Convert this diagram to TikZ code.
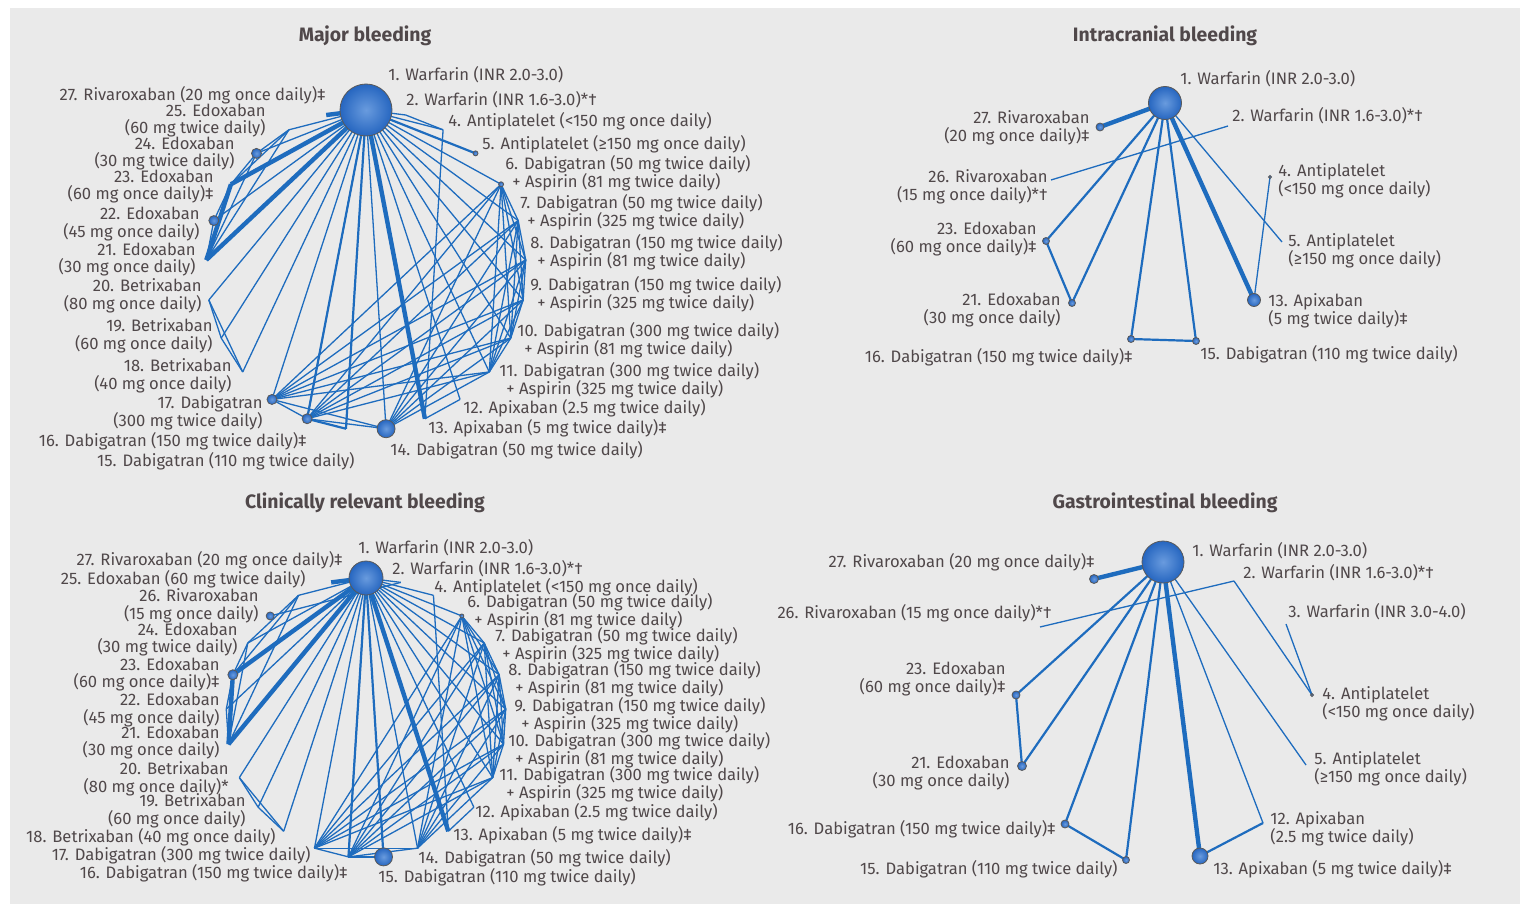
\documentclass[tikz,border=0pt]{standalone}
\usepackage{fontspec}
\setmainfont{Fira Sans}
\usetikzlibrary{calc}
\definecolor{bggray}{RGB}{234,234,234}
\definecolor{lineblue}{RGB}{30,108,190}
\definecolor{ballblue}{RGB}{38,102,192}
\definecolor{balllight}{RGB}{105,155,222}
\definecolor{txtgray}{RGB}{80,72,74}
\newcommand{\aspline}[1]{\hspace*{3.5pt}+ Aspirin (#1 mg twice daily)}

\begin{document}
\begin{tikzpicture}[x=0.5pt,y=-0.5pt,
    lbl/.style={text=txtgray,font=\fontsize{8.3}{8.8}\selectfont,inner sep=0pt},
    ttl/.style={text=txtgray,font=\fontsize{9.7}{11}\selectfont\bfseries},
    edge/.style={draw=lineblue,line width=0.65pt},
    medge/.style={draw=lineblue,line width=1.1pt},
    tedge/.style={draw=lineblue,line width=2.2pt},
    netnode/.style={circle,draw=black!65,line width=0.4pt,inner color=balllight,outer color=ballblue,inner sep=0pt,minimum size=#1}
  ]
  \useasboundingbox (0,0) rectangle (1521,904);
  \fill[bggray] (10,8) rectangle (1520,904);

  % titles
  \node[ttl] (t-major) at (365,36) {Major bleeding};
  \node[ttl] (t-intra) at (1165,36) {Intracranial bleeding};
  \node[ttl] (t-clin) at (365,503) {Clinically relevant bleeding};
  \node[ttl] (t-gi) at (1165,503) {Gastrointestinal bleeding};

  %% Major bleeding
  \foreach \n [count=\i from 0] in {1,2,4,5,6,7,8,9,10,11,12,13,14,15,16,17,18,19,20,21,22,23,24,25,27}
    \coordinate (M\n) at ($(366,270)+({-90+14.4*\i}:160)$);
  \foreach \a [count=\ka] in {1,6,7,8,9,10,11,14,16,17}
    \foreach \b [count=\kb] in {1,6,7,8,9,10,11,14,16,17}
      {\ifnum\kb>\ka \draw[edge] (M\a) -- (M\b); \fi}
  \foreach \a/\b in {1/2,1/4,1/12,1/18,1/19,1/20,1/22,1/24,1/25,2/4,4/13,12/13,
                     18/19,18/20,19/20,21/22,22/23,21/24,21/25,23/24,23/25,24/25}
    \draw[edge] (M\a) -- (M\b);
  \foreach \a/\b in {1/5,1/15,1/16,15/16}
    \draw[medge] (M\a) -- (M\b);
  \foreach \a/\b in {1/13,1/21,1/23,21/23,1/27}
    \draw[tedge] (M\a) -- (M\b);
  \node[netnode=26pt] at (M1) {};
  \node[netnode=2.5pt] at (M5) {};
  \node[netnode=2.5pt] at (M6) {};
  \node[netnode=9pt] at (M14) {};
  \node[netnode=5pt] at (M16) {};
  \node[netnode=5pt] at (M17) {};
  \node[netnode=5pt] at (M22) {};
  \node[netnode=5pt] at (M24) {};

  \begin{scope}[every node/.style={lbl}]
    \node[anchor=west] (ML1) at (388,75) {1. Warfarin (INR 2.0-3.0)};
    \node[anchor=west] (ML2) at (406,100) {2. Warfarin (INR 1.6-3.0)*†};
    \node[anchor=west] (ML4) at (448,121) {4. Antiplatelet (<150 mg once daily)};
    \node[anchor=west] (ML5) at (482,144) {5. Antiplatelet (≥150 mg once daily)};
    \node[anchor=west,align=left] (ML6) at (505,173.5) {6. Dabigatran (50 mg twice daily)\\\aspline{81}};
    \node[anchor=west,align=left] (ML7) at (520,212) {7. Dabigatran (50 mg twice daily)\\\aspline{325}};
    \node[anchor=west,align=left] (ML8) at (530,252) {8. Dabigatran (150 mg twice daily)\\\aspline{81}};
    \node[anchor=west,align=left] (ML9) at (530,294) {9. Dabigatran (150 mg twice daily)\\\aspline{325}};
    \node[anchor=west,align=left] (ML10) at (517,340) {10. Dabigatran (300 mg twice daily)\\\aspline{81}};
    \node[anchor=west,align=left] (ML11) at (499,380) {11. Dabigatran (300 mg twice daily)\\\aspline{325}};
    \node[anchor=west] (ML12) at (463,408) {12. Apixaban (2.5 mg twice daily)};
    \node[anchor=west] (ML13) at (428,428) {13. Apixaban (5 mg twice daily)‡};
    \node[anchor=west] (ML14) at (390,450) {14. Dabigatran (50 mg twice daily)};
    \node[anchor=east] (ML15) at (355,461) {15. Dabigatran (110 mg twice daily)};
    \node[anchor=east] (ML16) at (307,441) {16. Dabigatran (150 mg twice daily)‡};
    \node[anchor=east,align=right] (ML17) at (263,412.5) {17. Dabigatran\\(300 mg twice daily)};
    \node[anchor=east,align=right] (ML18) at (232,376) {18. Betrixaban\\(40 mg once daily)};
    \node[anchor=east,align=right] (ML19) at (213,336) {19. Betrixaban\\(60 mg once daily)};
    \node[anchor=east,align=right] (ML20) at (202,296) {20. Betrixaban\\(80 mg once daily)};
    \node[anchor=east,align=right] (ML21) at (196,259.5) {21. Edoxaban\\(30 mg once daily)};
    \node[anchor=east,align=right] (ML22) at (200,224) {22. Edoxaban\\(45 mg once daily)};
    \node[anchor=east,align=right] (ML23) at (214,186.5) {23. Edoxaban\\(60 mg once daily)‡};
    \node[anchor=east,align=right] (ML24) at (235,153.5) {24. Edoxaban\\(30 mg twice daily)};
    \node[anchor=east,align=right] (ML25) at (266,120.5) {25. Edoxaban\\(60 mg twice daily)};
    \node[anchor=east] (ML27) at (326,95) {27. Rivaroxaban (20 mg once daily)‡};
  \end{scope}

  %% Intracranial bleeding
  \coordinate (I1) at (1165,103);
  \coordinate (I2) at (1228,126);
  \coordinate (I4) at (1270,177);
  \coordinate (I5) at (1282,242);
  \coordinate (I13) at (1254,300);
  \coordinate (I15) at (1196,341);
  \coordinate (I16) at (1131,339);
  \coordinate (I21) at (1072,303);
  \coordinate (I23) at (1046,241);
  \coordinate (I26) at (1051,180);
  \coordinate (I27) at (1100,127);
  \foreach \a/\b in {2/26,1/5,4/13}
    \draw[edge] (I\a) -- (I\b);
  \foreach \a/\b in {1/23,1/21,23/21,1/16,1/15,16/15}
    \draw[medge] (I\a) -- (I\b);
  \foreach \a/\b in {1/27,1/13}
    \draw[tedge] (I\a) -- (I\b);
  \node[netnode=16.5pt] at (I1) {};
  \node[netnode=4pt] at (I27) {};
  \node[netnode=1.5pt] at (I4) {};
  \node[netnode=6.5pt] at (I13) {};
  \foreach \n in {15,16,21,23}
    \node[netnode=3.5pt] at (I\n) {};

  \begin{scope}[every node/.style={lbl}]
    \node[anchor=west] (IL1) at (1180,79) {1. Warfarin (INR 2.0-3.0)};
    \node[anchor=west] (IL2) at (1232,116) {2. Warfarin (INR 1.6-3.0)*†};
    \node[anchor=west,align=left] (IL4) at (1278,180.5) {4. Antiplatelet\\(<150 mg once daily)};
    \node[anchor=west,align=left] (IL5) at (1288,250.5) {5. Antiplatelet\\(≥150 mg once daily)};
    \node[anchor=west,align=left] (IL13) at (1268,311) {13. Apixaban\\(5 mg twice daily)‡};
    \node[anchor=west] (IL15) at (1200,354) {15. Dabigatran (110 mg twice daily)};
    \node[anchor=east] (IL16) at (1133,357) {16. Dabigatran (150 mg twice daily)‡};
    \node[anchor=east,align=right] (IL21) at (1061,310) {21. Edoxaban\\(30 mg once daily)};
    \node[anchor=east,align=right] (IL23) at (1037,239) {23. Edoxaban\\(60 mg once daily)‡};
    \node[anchor=east,align=right] (IL26) at (1048,187) {26. Rivaroxaban\\(15 mg once daily)*†};
    \node[anchor=east,align=right] (IL27) at (1090,128) {27. Rivaroxaban\\(20 mg once daily)‡};
  \end{scope}

  %% Clinically relevant bleeding
  \foreach \n [count=\i from 0] in {1,2,4,6,7,8,9,10,11,12,13,14,15,16,17,18,19,20,21,22,23,24,26,25,27}
    \coordinate (C\n) at ($(366,718)+({-90+14.4*\i}:140)$);
  \foreach \a [count=\ka] in {1,6,7,8,9,10,11,14,16,17}
    \foreach \b [count=\kb] in {1,6,7,8,9,10,11,14,16,17}
      {\ifnum\kb>\ka \draw[edge] (C\a) -- (C\b); \fi}
  \foreach \a/\b in {1/2,1/4,1/12,1/18,1/19,1/20,1/22,1/24,1/25,2/26,4/13,12/13,
                     18/19,18/20,19/20,21/22,22/23,21/24,21/25,23/24,23/25,24/25}
    \draw[edge] (C\a) -- (C\b);
  \foreach \a/\b in {1/15,1/16,15/16}
    \draw[medge] (C\a) -- (C\b);
  \foreach \a/\b in {1/13,1/21,1/23,21/23,1/27}
    \draw[tedge] (C\a) -- (C\b);
  \node[netnode=17pt] at (C1) {};
  \node[netnode=2pt] at (C6) {};
  \node[netnode=4pt] at (C26) {};
  \node[netnode=5pt] at (C23) {};
  \node[netnode=9pt] at (C15) {};

  \begin{scope}[every node/.style={lbl}]
    \node[anchor=west] (CL1) at (358,548) {1. Warfarin (INR 2.0-3.0)};
    \node[anchor=west] (CL2) at (392,569) {2. Warfarin (INR 1.6-3.0)*†};
    \node[anchor=west] (CL4) at (434,587) {4. Antiplatelet (<150 mg once daily)};
    \node[anchor=west,align=left] (CL6) at (467,611.5) {6. Dabigatran (50 mg twice daily)\\\aspline{81}};
    \node[anchor=west,align=left] (CL7) at (495,645.5) {7. Dabigatran (50 mg twice daily)\\\aspline{325}};
    \node[anchor=west,align=left] (CL8) at (508,679.5) {8. Dabigatran (150 mg twice daily)\\\aspline{81}};
    \node[anchor=west,align=left] (CL9) at (514,715.5) {9. Dabigatran (150 mg twice daily)\\\aspline{325}};
    \node[anchor=west,align=left] (CL10) at (508,750) {10. Dabigatran (300 mg twice daily)\\\aspline{81}};
    \node[anchor=west,align=left] (CL11) at (499,784.5) {11. Dabigatran (300 mg twice daily)\\\aspline{325}};
    \node[anchor=west] (CL12) at (475,812) {12. Apixaban (2.5 mg twice daily)};
    \node[anchor=west] (CL13) at (453,835) {13. Apixaban (5 mg twice daily)‡};
    \node[anchor=west] (CL14) at (418,858) {14. Dabigatran (50 mg twice daily)};
    \node[anchor=west] (CL15) at (378,877) {15. Dabigatran (110 mg twice daily)};
    \node[anchor=east] (CL16) at (348,873) {16. Dabigatran (150 mg twice daily)‡};
    \node[anchor=east] (CL17) at (311,855) {17. Dabigatran (300 mg twice daily)};
    \node[anchor=east] (CL18) at (276,837) {18. Betrixaban (40 mg once daily)};
    \node[anchor=east,align=right] (CL19) at (246,811) {19. Betrixaban\\(60 mg once daily)};
    \node[anchor=east,align=right] (CL20) at (229,779) {20. Betrixaban\\(80 mg once daily)*};
    \node[anchor=east,align=right] (CL21) at (220,742.5) {21. Edoxaban\\(30 mg once daily)};
    \node[anchor=east,align=right] (CL22) at (220,710) {22. Edoxaban\\(45 mg once daily)};
    \node[anchor=east,align=right] (CL23) at (220,674.5) {23. Edoxaban\\(60 mg once daily)‡};
    \node[anchor=east,align=right] (CL24) at (238,639.5) {24. Edoxaban\\(30 mg twice daily)};
    \node[anchor=east,align=right] (CL26) at (259,605.5) {26. Rivaroxaban\\(15 mg once daily)};
    \node[anchor=east] (CL25) at (306,579) {25. Edoxaban (60 mg twice daily)};
    \node[anchor=east] (CL27) at (343,560) {27. Rivaroxaban (20 mg once daily)‡};
  \end{scope}

  %% Gastrointestinal bleeding
  \coordinate (G1) at (1163,562);
  \coordinate (G2) at (1234,581);
  \coordinate (G3) at (1286,624);
  \coordinate (G4) at (1312,695);
  \coordinate (G5) at (1306,765);
  \coordinate (G12) at (1263,823);
  \coordinate (G13) at (1200,856);
  \coordinate (G15) at (1126,860);
  \coordinate (G16) at (1065,824);
  \coordinate (G21) at (1022,766);
  \coordinate (G23) at (1016,695);
  \coordinate (G26) at (1040,627);
  \coordinate (G27) at (1094,579);
  \foreach \a/\b in {2/26,2/4,3/4,1/5,1/12}
    \draw[edge] (G\a) -- (G\b);
  \foreach \a/\b in {1/23,1/21,23/21,1/16,1/15,16/15,12/13}
    \draw[medge] (G\a) -- (G\b);
  \foreach \a/\b in {1/27,1/13}
    \draw[tedge] (G\a) -- (G\b);
  \node[netnode=21pt] at (G1) {};
  \node[netnode=4.5pt] at (G27) {};
  \node[netnode=1.5pt] at (G4) {};
  \node[netnode=4pt] at (G23) {};
  \node[netnode=4.5pt] at (G21) {};
  \node[netnode=4pt] at (G16) {};
  \node[netnode=3.5pt] at (G15) {};
  \node[netnode=8pt] at (G13) {};

  \begin{scope}[every node/.style={lbl}]
    \node[anchor=west] (GL1) at (1192,551) {1. Warfarin (INR 2.0-3.0)};
    \node[anchor=west] (GL2) at (1243,573) {2. Warfarin (INR 1.6-3.0)*†};
    \node[anchor=west] (GL3) at (1288,612) {3. Warfarin (INR 3.0-4.0)};
    \node[anchor=west,align=left] (GL4) at (1322,704) {4. Antiplatelet\\(<150 mg once daily)};
    \node[anchor=west,align=left] (GL5) at (1314,769) {5. Antiplatelet\\(≥150 mg once daily)};
    \node[anchor=west,align=left] (GL12) at (1270,829) {12. Apixaban\\(2.5 mg twice daily)};
    \node[anchor=west] (GL13) at (1213,869) {13. Apixaban (5 mg twice daily)‡};
    \node[anchor=east] (GL15) at (1118,869) {15. Dabigatran (110 mg twice daily)};
    \node[anchor=east] (GL16) at (1056,829) {16. Dabigatran (150 mg twice daily)‡};
    \node[anchor=east,align=right] (GL21) at (1010,773) {21. Edoxaban\\(30 mg once daily)};
    \node[anchor=east,align=right] (GL23) at (1006,679) {23. Edoxaban\\(60 mg once daily)‡};
    \node[anchor=east] (GL26) at (1052,613) {26. Rivaroxaban (15 mg once daily)*†};
    \node[anchor=east] (GL27) at (1095,562) {27. Rivaroxaban (20 mg once daily)‡};
  \end{scope}
\end{tikzpicture}
\end{document}
